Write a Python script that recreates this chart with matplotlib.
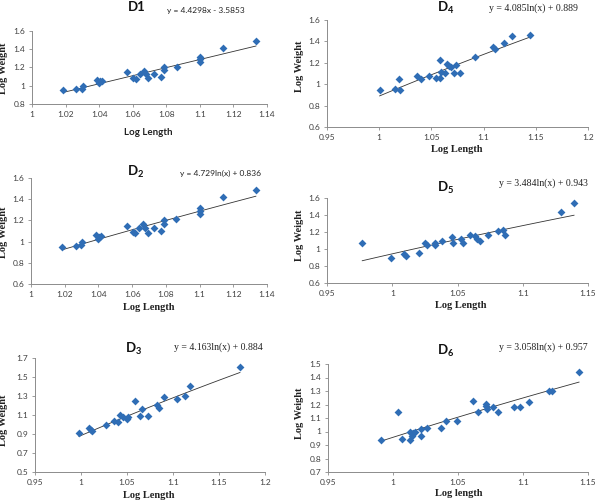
import numpy as np
import matplotlib.pyplot as plt
from matplotlib.ticker import FuncFormatter

SANS = ['Lato', 'DejaVu Sans']
SERIF = ['Liberation Serif', 'DejaVu Serif']
BLUE = '#2f6db5'

# D1 / D2 (same fish)
x12 = [1.0185, 1.0265, 1.0295, 1.0305, 1.0385, 1.0400, 1.0405, 1.0415, 1.0568, 1.0603,
       1.0617, 1.0643, 1.0667, 1.0677, 1.0693, 1.0729, 1.0769, 1.0789, 1.0789, 1.0862,
       1.1002, 1.1000, 1.1000, 1.1137, 1.1334]
y12 = [0.953, 0.960, 0.964, 1.000, 1.059, 1.026, 1.048, 1.056, 1.151, 1.089,
       1.078, 1.129, 1.165, 1.130, 1.080, 1.129, 1.100, 1.200, 1.170, 1.209,
       1.319, 1.290, 1.257, 1.417, 1.487]

# D3
x3 = [0.9978, 1.0090, 1.0105, 1.0116, 1.0272, 1.0362, 1.0406, 1.0424, 1.0453, 1.0496,
      1.0514, 1.0587, 1.0641, 1.0659, 1.0732, 1.0822, 1.0848, 1.0906, 1.1040, 1.1130,
      1.1185, 1.1728]
y3 = [0.908, 0.967, 0.943, 0.936, 0.995, 1.041, 1.023, 1.100, 1.075, 1.055,
      1.083, 1.250, 1.089, 1.163, 1.093, 1.205, 1.170, 1.285, 1.267, 1.299,
      1.407, 1.606]

# D4
x4 = [1.0004, 1.0148, 1.0190, 1.0202, 1.0362, 1.0404, 1.0477, 1.0547, 1.0579, 1.0579,
      1.0595, 1.0633, 1.0653, 1.0665, 1.0691, 1.0716, 1.0739, 1.0771, 1.0921, 1.1090,
      1.1106, 1.1192, 1.1272, 1.1441]
y4 = [0.944, 0.959, 1.047, 0.950, 1.075, 1.047, 1.081, 1.059, 1.225, 1.059,
      1.116, 1.106, 1.188, 1.172, 1.163, 1.106, 1.184, 1.106, 1.256, 1.350,
      1.328, 1.381, 1.453, 1.463]

# D5
x5 = [0.9770, 0.9993, 1.0088, 1.0103, 1.0202, 1.0248, 1.0269, 1.0325, 1.0325, 1.0381,
      1.0458, 1.0466, 1.0524, 1.0542, 1.0598, 1.0632, 1.0652, 1.0670, 1.0734, 1.0810,
      1.0849, 1.0867, 1.1290, 1.1393]
y5 = [1.075, 0.898, 0.945, 0.918, 0.953, 1.071, 1.043, 1.075, 1.051, 1.090,
      1.145, 1.071, 1.114, 1.075, 1.169, 1.149, 1.114, 1.094, 1.169, 1.212,
      1.227, 1.169, 1.435, 1.541]

# D6
x6 = [0.9909, 1.0042, 1.0073, 1.0132, 1.0132, 1.0144, 1.0157, 1.0170, 1.0216, 1.0216,
      1.0260, 1.0367, 1.0408, 1.0490, 1.0618, 1.0656, 1.0712, 1.0712, 1.0720, 1.0771,
      1.0804, 1.0932, 1.0976, 1.1045, 1.1201, 1.1224, 1.1431]
y6 = [0.936, 1.147, 0.948, 0.998, 0.936, 0.968, 0.986, 0.996, 1.020, 0.966,
      1.028, 1.028, 1.080, 1.080, 1.229, 1.147, 1.204, 1.189, 1.165, 1.180,
      1.147, 1.184, 1.184, 1.222, 1.301, 1.301, 1.438]

# trend line coefficients as printed on the chart
fit1 = ('lin', 4.4298, -3.5853)
fit2 = ('log', 4.729, 0.836)
fit3 = ('log', 4.163, 0.884)
fit4 = ('log', 4.085, 0.889)
fit5 = ('log', 3.484, 0.943)
fit6 = ('log', 3.058, 0.957)

W, H = 600, 501
fig = plt.figure(figsize=(6, 5.01), dpi=100)


def px_axes(l, t, r, b):
    return fig.add_axes([l / W, 1 - b / H, (r - l) / W, (b - t) / H])


def ftxt(x, y, s, **kw):
    return fig.text(x / W, 1 - y / H, s, **kw)


fmt = FuncFormatter(lambda v, p: f'{v:.2f}'.rstrip('0').rstrip('.'))


def panel(box, x, y, fit, xlim, xticks, ylim, yticks):
    ax = px_axes(*box)
    ax.scatter(x, y, marker='D', s=16, color=BLUE, linewidths=0, zorder=3)
    kind, a, b = fit
    xs = np.linspace(min(x), max(x), 50)
    ys = a * xs + b if kind == 'lin' else a * np.log(xs) + b
    ax.plot(xs, ys, color='#333333', lw=0.6, zorder=2)
    ax.set_xlim(*xlim)
    ax.set_ylim(*ylim)
    ax.set_xticks(xticks)
    ax.set_yticks(yticks)
    ax.xaxis.set_major_formatter(fmt)
    ax.yaxis.set_major_formatter(fmt)
    for s in ['top', 'right']:
        ax.spines[s].set_visible(False)
    for s in ['left', 'bottom']:
        ax.spines[s].set_color('#8c8c8c')
        ax.spines[s].set_linewidth(0.7)
    ax.tick_params(direction='out', length=2.5, width=0.6, color='#8c8c8c',
                   labelsize=6, labelcolor='#404040', pad=2.5)
    for lab in ax.get_xticklabels() + ax.get_yticklabels():
        lab.set_family(SANS)
    return ax


panel((32, 31, 267, 104), x12, y12, fit1, (1, 1.14), np.arange(1, 1.141, 0.02),
      (0.8, 1.6), np.arange(0.8, 1.61, 0.2))
panel((31, 178, 267, 284), x12, y12, fit2, (1, 1.14), np.arange(1, 1.141, 0.02),
      (0.6, 1.6), np.arange(0.6, 1.61, 0.2))
panel((35, 358, 265, 472), x3, y3, fit3, (0.95, 1.2), np.arange(0.95, 1.201, 0.05),
      (0.5, 1.7), np.arange(0.5, 1.71, 0.2))
panel((327, 20, 588, 127), x4, y4, fit4, (0.95, 1.2), np.arange(0.95, 1.201, 0.05),
      (0.6, 1.6), np.arange(0.6, 1.61, 0.2))
panel((327, 198, 588, 283), x5, y5, fit5, (0.95, 1.15), np.arange(0.95, 1.151, 0.05),
      (0.6, 1.6), np.arange(0.6, 1.61, 0.2))
panel((328, 364, 588, 472), x6, y6, fit6, (0.95, 1.15), np.arange(0.95, 1.151, 0.05),
      (0.7, 1.5), np.arange(0.7, 1.51, 0.1))

# titles
tkw = dict(family=SANS, fontsize=9.5, fontweight='bold', ha='center', va='center', color='#111111')
ftxt(137, 7, 'D1', **tkw)
ftxt(136, 172, r'$\mathregular{D_2}$', **tkw)
ftxt(134, 349, r'$\mathregular{D_3}$', **tkw)
ftxt(446, 8, r'$\mathregular{D_4}$', **tkw)
ftxt(446, 188, r'$\mathregular{D_5}$', **tkw)
ftxt(446, 351, r'$\mathregular{D_6}$', **tkw)

# equations
ftxt(167, 10, 'y = 4.4298x - 3.5853', family=SANS, fontsize=6, va='center', color='#222222')
ftxt(180, 173, 'y = 4.729ln(x) + 0.836', family=SANS, fontsize=6, va='center', color='#222222')
ekw = dict(family=SERIF, fontsize=7, va='center', ha='right', color='#222222')
ftxt(263, 347, 'y = 4.163ln(x) + 0.884', **ekw)
ftxt(578, 8, 'y = 4.085ln(x) + 0.889', **ekw)
ftxt(588, 183, 'y = 3.484ln(x) + 0.943', **ekw)
ftxt(588, 347, 'y = 3.058ln(x) + 0.957', **ekw)

# axis labels
xkw = dict(family=SERIF, fontsize=7.5, fontweight='bold', ha='center', va='center', color='#222222')
ftxt(148, 132, 'Log Length', family=SANS, fontsize=7, fontweight='bold',
     ha='center', va='center', color='#222222')
ftxt(149, 307, 'Log Length', **xkw)
ftxt(149, 495, 'Log Length', **xkw)
ftxt(457, 149, 'Log Length', **xkw)
ftxt(461, 306, 'Log Length', **xkw)
ftxt(459, 494, 'Log length', **xkw)

ykw = dict(family=SERIF, fontsize=7.5, fontweight='bold', ha='center', va='center',
           rotation=90, color='#222222')
ftxt(4, 68, 'Log Weight', **ykw)
ftxt(4, 232, 'Log Weight', **ykw)
ftxt(4, 420, 'Log Weight', **ykw)
ftxt(299, 66, 'Log Weight', **ykw)
ftxt(299, 235, 'Log Weight', **ykw)
ftxt(299, 413, 'Log Weight', **ykw)

fig.savefig('out.png', dpi=100)
